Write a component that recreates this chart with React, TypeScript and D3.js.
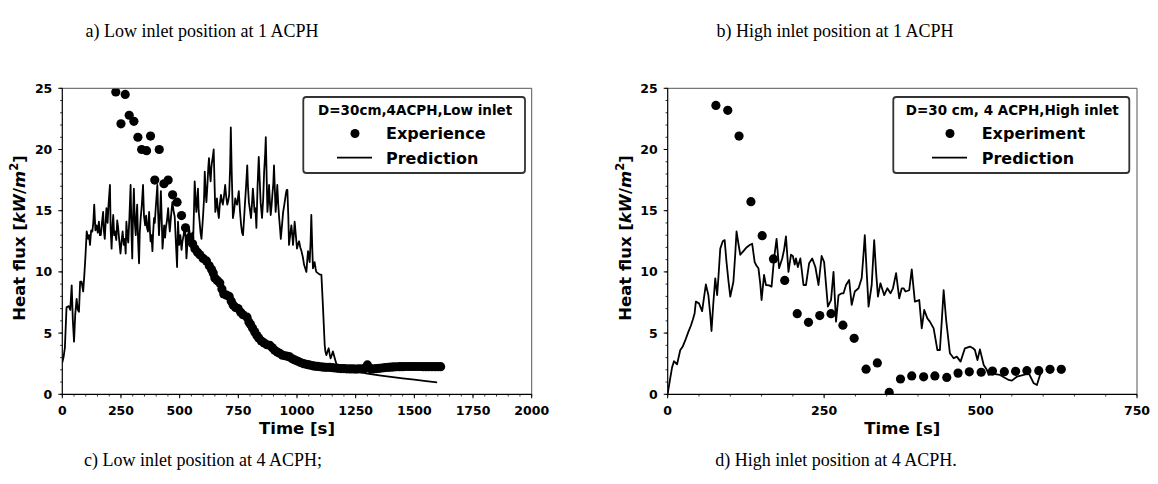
import React from "react";
import * as d3 from "d3";

// ---------- DATA ----------
const lowTicksX = [0, 250, 500, 750, 1000, 1250, 1500, 1750, 2000];
const highTicksX = [0, 250, 500, 750];
const ticksY = [0, 5, 10, 15, 20, 25];

const lowExperience: [number, number][] = [
  [228, 24.7], [250, 22.1], [268, 24.5], [285, 22.8], [305, 22.3], [322, 21.0], [338, 20.0], [359, 19.9],
  [376, 21.1], [394, 17.5], [413, 20.0], [433, 17.2], [451, 17.5], [470, 16.3], [489, 15.7], [508, 14.6],
  [525, 13.6], [543, 12.8], [555, 12.3], [565, 11.9], [576, 11.6], [586, 11.4], [600, 11.1], [614, 10.9],
  [626, 10.5], [636, 10.2], [643, 9.9], [650, 9.5], [660, 9.3], [671, 9.1], [680, 8.6], [688, 8.2],
  [700, 8.1], [711, 8.0], [720, 7.6], [728, 7.3], [738, 7.1], [749, 7.0], [760, 6.7], [770, 6.5],
  [787, 6.3], [795, 5.9], [802, 5.7], [811, 5.4], [820, 5.1], [829, 4.8], [837, 4.6], [848, 4.35],
  [860, 4.2], [872, 4.05], [884, 4.0], [895, 3.8], [905, 3.6], [916, 3.45], [926, 3.35], [938, 3.2],
  [950, 3.15], [960, 3.1], [969, 3.05], [980, 2.9], [992, 2.8], [1004, 2.7], [1015, 2.6], [1028, 2.5],
  [1040, 2.45], [1052, 2.4], [1064, 2.35], [1075, 2.3], [1088, 2.28], [1100, 2.25], [1112, 2.22], [1125, 2.2],
  [1138, 2.2], [1150, 2.18], [1162, 2.15], [1175, 2.12], [1188, 2.1], [1200, 2.1], [1212, 2.08], [1225, 2.07],
  [1238, 2.07], [1250, 2.06], [1262, 2.07], [1275, 2.08], [1288, 2.1], [1300, 2.4], [1312, 2.1], [1325, 2.08],
  [1338, 2.1], [1350, 2.12], [1362, 2.15], [1375, 2.18], [1388, 2.2], [1400, 2.22], [1412, 2.24], [1425, 2.25],
  [1438, 2.26], [1450, 2.26], [1462, 2.27], [1475, 2.27], [1488, 2.27], [1500, 2.27], [1512, 2.27], [1525, 2.27],
  [1538, 2.26], [1550, 2.26], [1562, 2.26], [1575, 2.26], [1588, 2.26], [1600, 2.26], [1612, 2.26],
];

const lowPrediction: [number, number][] = [
  [0, 2.6], [5, 3.0], [11, 3.8], [18, 7.1], [28, 7.2], [34, 6.9], [40, 8.9], [45, 6.0], [50, 4.3], [55, 6.5],
  [61, 7.8], [66, 6.9], [71, 6.75], [76, 9.2], [82, 9.2], [89, 8.4], [94, 9.8], [99, 11.4], [104, 13.3], [110, 12.7],
  [114, 13.0], [118, 12.2], [123, 13.4], [128, 13.3], [132, 14.0], [136, 15.5], [141, 13.4], [146, 13.8], [151, 13.2],
  [156, 14.1], [160, 13.0], [164, 13.0], [169, 14.0], [174, 14.9], [177, 13.4], [181, 12.7], [185, 14.2], [188, 15.2],
  [193, 14.0], [197, 15.5], [203, 17.1], [206, 13.5], [210, 11.9], [214, 13.8], [217, 14.65], [221, 13.0], [224, 13.3],
  [230, 12.6], [234, 14.2], [238, 13.6], [243, 12.5], [248, 11.5], [252, 12.4], [257, 13.3], [262, 12.2], [266, 12.7],
  [270, 11.5], [273, 14.1], [277, 13.0], [281, 12.4], [286, 14.5], [291, 17.1], [295, 13.0], [298, 11.1], [301, 14.3],
  [305, 16.8], [309, 14.0], [313, 13.0], [316, 14.5], [319, 15.5], [323, 12.5], [327, 10.7], [330, 13.2], [334, 14.4],
  [339, 15.5], [344, 17.1], [348, 14.6], [353, 13.8], [357, 14.6], [361, 13.6], [365, 13.3], [370, 14.9], [373, 13.5],
  [376, 12.5], [380, 13.0], [384, 11.7], [387, 13.2], [391, 14.4], [394, 14.0], [398, 15.2], [401, 16.0], [405, 17.1],
  [408, 15.0], [412, 13.0], [416, 14.5], [420, 16.6], [424, 14.0], [427, 11.9], [431, 13.0], [434, 13.8], [438, 12.8],
  [441, 13.6], [446, 14.2], [451, 15.2], [455, 14.0], [458, 13.3], [463, 14.5], [469, 15.7], [474, 15.0], [479, 14.5],
  [484, 12.4], [489, 10.4], [493, 14.1], [498, 12.2], [503, 13.0], [508, 11.8], [512, 12.5], [517, 13.0], [522, 13.8],
  [526, 12.5], [529, 11.1], [534, 12.6], [540, 13.6], [545, 12.8], [550, 12.5], [554, 13.2], [557, 12.2], [561, 15.0],
  [564, 17.4], [568, 16.0], [571, 14.9], [575, 15.8], [578, 16.8], [581, 15.0], [585, 14.1], [589, 13.2], [593, 12.7],
  [597, 13.8], [600, 14.65], [604, 16.0], [607, 18.2], [611, 16.5], [614, 15.7], [618, 17.0], [622, 18.5], [625, 19.3],
  [629, 18.0], [632, 17.4], [635, 18.5], [638, 19.0], [642, 19.5], [645, 20.0], [649, 17.0], [652, 14.9], [656, 15.5],
  [659, 16.0], [663, 15.0], [667, 14.4], [671, 15.5], [676, 16.3], [680, 15.8], [684, 15.5], [689, 16.2], [694, 17.1],
  [698, 16.2], [703, 15.5], [707, 15.8], [711, 16.3], [715, 18.5], [718, 21.8], [722, 18.0], [727, 14.4], [732, 15.0],
  [737, 16.0], [741, 15.6], [745, 15.5], [748, 16.0], [752, 16.6], [757, 15.0], [762, 13.8], [766, 13.2], [770, 13.0],
  [774, 14.2], [778, 15.5], [783, 17.0], [788, 18.7], [791, 17.0], [795, 15.7], [800, 15.0], [804, 14.4], [808, 15.5],
  [812, 16.8], [816, 15.8], [819, 14.9], [823, 15.2], [827, 13.6], [832, 17.0], [837, 19.4], [841, 17.5], [845, 15.7],
  [851, 14.4], [856, 16.0], [860, 18.2], [864, 19.5], [867, 21.0], [871, 17.5], [874, 14.9], [878, 16.0], [881, 17.1],
  [885, 15.5], [888, 14.65], [892, 15.5], [895, 16.3], [899, 17.2], [902, 18.7], [906, 16.5], [909, 14.9], [913, 16.0],
  [916, 17.1], [920, 15.5], [924, 14.4], [928, 13.5], [931, 12.7], [936, 13.8], [941, 14.9], [946, 15.5], [952, 16.3],
  [956, 16.7], [959, 16.7], [963, 14.5], [966, 12.2], [971, 13.0], [976, 13.8], [980, 13.0], [983, 12.2], [987, 13.2],
  [990, 14.1], [995, 13.0], [1000, 11.9], [1005, 12.3], [1009, 12.5], [1014, 12.0], [1019, 11.7], [1025, 11.2],
  [1030, 10.6], [1035, 10.3], [1040, 10.0], [1044, 11.0], [1047, 11.7], [1051, 11.2], [1054, 10.8], [1058, 12.5],
  [1061, 14.65], [1065, 12.0], [1068, 10.3], [1072, 10.6], [1075, 10.8], [1079, 10.3], [1082, 10.0], [1089, 9.9],
  [1096, 9.8], [1104, 9.75], [1111, 7.0], [1118, 4.03], [1121, 3.5], [1125, 3.2], [1130, 3.5], [1135, 3.76],
  [1139, 3.3], [1143, 2.94], [1148, 3.2], [1153, 3.5], [1160, 3.0], [1167, 2.53], [1175, 2.3], [1182, 2.15],
  [1200, 2.05], [1250, 1.88], [1300, 1.7], [1350, 1.55], [1400, 1.42], [1450, 1.3], [1500, 1.2], [1550, 1.08],
  [1597, 0.98],
];

const highExperiment: [number, number][] = [
  [77, 23.6], [96, 23.2], [114, 21.1], [133, 15.74], [151, 12.96], [169, 11.06], [187, 9.3], [207, 6.59],
  [225, 5.88], [243, 6.43], [261, 6.59], [280, 5.65], [298, 4.57], [317, 2.05], [335, 2.56], [354, 0.15],
  [372, 1.25], [390, 1.5], [409, 1.43], [427, 1.5], [446, 1.38], [464, 1.73], [482, 1.84], [501, 1.8],
  [519, 1.9], [538, 1.85], [556, 1.88], [574, 1.93], [593, 1.93], [611, 2.04], [629, 2.04],
];

const highPrediction: [number, number][] = [
  [0, 0.05], [4, 1.3], [7, 2.2], [10, 2.7], [15, 2.45], [20, 3.6], [24, 3.9], [28, 4.4], [33, 5.1], [37, 5.6],
  [40, 6.07], [43, 6.6], [45, 7.57], [50, 7.43], [55, 6.8], [58, 7.9], [61, 8.98], [65, 8.1], [68, 6.5], [70, 5.17],
  [73, 7.5], [76, 9.47], [79, 8.1], [81, 9.5], [84, 11.9], [88, 12.5], [91, 12.6], [94, 10.8], [97, 9.3], [100, 7.98],
  [105, 9.2], [108, 11.5], [110, 13.3], [113, 12.3], [116, 11.4], [121, 11.7], [126, 12.0], [131, 12.2], [135, 12.3],
  [139, 10.8], [142, 10.5], [145, 10.3], [148, 9.0], [150, 7.7], [154, 9.75], [157, 8.93], [162, 8.9], [166, 8.8],
  [170, 11.1], [174, 12.7], [178, 10.3], [183, 11.1], [186, 11.8], [189, 12.9], [193, 10.0], [197, 11.4], [200, 11.3],
  [203, 10.6], [205, 11.1], [208, 10.4], [212, 11.1], [217, 8.93], [221, 8.93], [226, 10.7], [231, 11.1], [236, 10.4],
  [241, 8.93], [246, 11.3], [250, 10.8], [256, 7.16], [261, 7.7], [265, 10.0], [269, 5.94], [273, 8.1], [278, 8.25],
  [281, 8.25], [285, 8.93], [290, 9.34], [294, 7.3], [299, 8.4], [305, 8.66], [310, 9.48], [313, 11.5], [315, 13.0],
  [318, 10.0], [321, 7.16], [326, 8.93], [330, 12.6], [333, 10.0], [336, 7.98], [340, 9.07], [346, 8.1], [351, 8.66],
  [356, 8.25], [360, 8.66], [365, 9.9], [370, 7.84], [374, 8.66], [377, 8.66], [380, 8.4], [386, 8.5], [390, 10.2],
  [395, 7.57], [402, 7.7], [406, 5.39], [410, 6.89], [415, 6.2], [419, 5.94], [425, 5.39], [431, 3.62], [435, 3.62],
  [438, 6.0], [441, 8.5], [445, 6.07], [451, 3.35], [457, 2.94], [462, 3.08], [468, 2.67], [475, 3.76], [483, 3.9],
  [488, 3.76], [491, 3.62], [495, 2.8], [499, 3.67], [505, 2.4], [510, 2.0], [513, 1.58], [521, 1.66], [531, 1.58],
  [545, 1.17], [550, 1.12], [558, 1.44], [569, 1.58], [577, 1.72], [585, 0.9], [590, 0.76], [595, 1.58], [598, 1.85],
];

const titles = [
  "a) Low inlet position at 1 ACPH",
  "b) High inlet position at 1 ACPH",
  "c) Low inlet position at 4 ACPH;",
  "d) High inlet position at 4 ACPH.",
];
const legendTitles = ["D=30cm,4ACPH,Low inlet", "D=30 cm, 4 ACPH,High inlet"];
const legendMarkerLabels = ["Experience", "Experiment"];
const legendLineLabel = "Prediction";

// ---------- LAYOUT ----------
const W = 1158;
const H = 484;
const SANS = "'DejaVu Sans', sans-serif";
const SERIF = "'Liberation Serif', 'Times New Roman', serif";

type LegendBox = { x: number; w: number; mk: number; tx: number };
type PanelProps = {
  id: string;
  x0: number;
  x1: number;
  xMax: number;
  xTicks: number[];
  xMinorStep: number;
  dots: [number, number][];
  line: [number, number][];
  legendTitle: string;
  markerLabel: string;
  legendBox: LegendBox;
};

function Panel(p: PanelProps) {
  const yTop = 88.3;
  const yBot = 394.3;
  const x = d3.scaleLinear().domain([0, p.xMax]).range([p.x0, p.x1]);
  const y = d3.scaleLinear().domain([0, 25]).range([yBot, yTop]);
  const xMinor = d3.range(0, p.xMax + 0.001, p.xMinorStep);
  const yMinor = d3.range(0, 25.001, 1);
  const lineGen = d3
    .line<[number, number]>()
    .x((d) => x(d[0]))
    .y((d) => y(d[1]));
  const cx = (p.x0 + p.x1) / 2;
  const cy = 238;
  const lb = p.legendBox;
  return (
    <g>
      <defs>
        <clipPath id={p.id}>
          <rect x={p.x0} y={yTop} width={p.x1 - p.x0} height={yBot - yTop} />
        </clipPath>
      </defs>
      <g clipPath={`url(#${p.id})`}>
        <path d={lineGen(p.line) || ""} fill="none" stroke="#000" strokeWidth={1.8} strokeLinejoin="round" />
        {p.dots.map((d, i) => (
          <circle key={i} cx={x(d[0])} cy={y(d[1])} r={4.6} fill="#000" />
        ))}
      </g>
      {/* spines */}
      <line x1={p.x0} x2={p.x1} y1={yTop} y2={yTop} stroke="#555" strokeWidth={1} />
      <line x1={p.x1} x2={p.x1} y1={yTop} y2={yBot} stroke="#555" strokeWidth={1} />
      <line x1={p.x0} x2={p.x1} y1={yBot} y2={yBot} stroke="#000" strokeWidth={1.2} />
      <line x1={p.x0} x2={p.x0} y1={yTop} y2={yBot} stroke="#000" strokeWidth={1.2} />
      {/* minor ticks */}
      {xMinor.map((t, i) => (
        <line key={"xm" + i} x1={x(t)} x2={x(t)} y1={yBot} y2={yBot + 2.2} stroke="#000" strokeWidth={0.8} />
      ))}
      {yMinor.map((t, i) => (
        <line key={"ym" + i} x1={p.x0 - 2.2} x2={p.x0} y1={y(t)} y2={y(t)} stroke="#000" strokeWidth={0.8} />
      ))}
      {/* major ticks + labels */}
      {p.xTicks.map((t) => (
        <g key={"xt" + t}>
          <line x1={x(t)} x2={x(t)} y1={yBot} y2={yBot + 4} stroke="#000" strokeWidth={1} />
          <text x={x(t)} y={yBot + 20.5} textAnchor="middle" fontFamily={SANS} fontWeight="bold" fontSize={12.5}>
            {t}
          </text>
        </g>
      ))}
      {ticksY.map((t) => (
        <g key={"yt" + t}>
          <line x1={p.x0 - 4} x2={p.x0} y1={y(t)} y2={y(t)} stroke="#000" strokeWidth={1} />
          <text x={p.x0 - 10} y={y(t)} dy="0.36em" textAnchor="end" fontFamily={SANS} fontWeight="bold" fontSize={12.5}>
            {t}
          </text>
        </g>
      ))}
      {/* axis labels */}
      <text x={cx} y={yBot + 39.5} textAnchor="middle" fontFamily={SANS} fontWeight="bold" fontSize={16.5}>
        Time [s]
      </text>
      <text
        transform={`translate(${p.x0 - 37},${cy}) rotate(-90)`}
        textAnchor="middle"
        fontFamily={SANS}
        fontWeight="bold"
        fontSize={16.5}
      >
        Heat flux [<tspan fontStyle="italic">kW</tspan>/<tspan fontStyle="italic">m</tspan>
        <tspan fontSize={11.5} dy={-7}>2</tspan>
        <tspan dy={7}>]</tspan>
      </text>
      {/* legend */}
      <rect x={lb.x} y={97} width={lb.w} height={76} rx={3} ry={3} fill="#fff" stroke="#333" strokeWidth={1.8} />
      <text x={lb.x + lb.w / 2 + 1} y={115} textAnchor="middle" fontFamily={SANS} fontWeight="bold" fontSize={13.5}>
        {p.legendTitle}
      </text>
      <circle cx={lb.x + lb.mk} cy={133.5} r={4.5} fill="#000" />
      <text x={lb.x + lb.tx} y={138.7} fontFamily={SANS} fontWeight="bold" fontSize={16}>
        {p.markerLabel}
      </text>
      <line x1={lb.x + lb.mk - 18} x2={lb.x + lb.mk + 17} y1={157.7} y2={157.7} stroke="#000" strokeWidth={1.8} />
      <text x={lb.x + lb.tx} y={164} fontFamily={SANS} fontWeight="bold" fontSize={16}>
        {legendLineLabel}
      </text>
    </g>
  );
}

export default function App() {
  return (
    <svg
      width={W}
      height={H}
      viewBox={`0 0 ${W} ${H}`}
      style={{ position: "absolute", left: 0, top: 0, background: "#fff" }}
    >
      <rect x={0} y={0} width={W} height={H} fill="#fff" />
      <text x={202} y={37} textAnchor="middle" fontFamily={SERIF} fontSize={18}>{titles[0]}</text>
      <text x={835} y={37} textAnchor="middle" fontFamily={SERIF} fontSize={18}>{titles[1]}</text>
      <text x={203} y={466} textAnchor="middle" fontFamily={SERIF} fontSize={18}>{titles[2]}</text>
      <text x={836} y={466} textAnchor="middle" fontFamily={SERIF} fontSize={18}>{titles[3]}</text>
      <Panel
        id="clipL"
        x0={62.3}
        x1={531.7}
        xMax={2000}
        xTicks={lowTicksX}
        xMinorStep={50}
        dots={lowExperience}
        line={lowPrediction}
        legendTitle={legendTitles[0]}
        markerLabel={legendMarkerLabels[0]}
        legendBox={{ x: 303.3, w: 221.7, mk: 51.7, tx: 82.7 }}
      />
      <Panel
        id="clipR"
        x0={667.7}
        x1={1137}
        xMax={750}
        xTicks={highTicksX}
        xMinorStep={50}
        dots={highExperiment}
        line={highPrediction}
        legendTitle={legendTitles[1]}
        markerLabel={legendMarkerLabels[1]}
        legendBox={{ x: 893.3, w: 236, mk: 56.7, tx: 88.4 }}
      />
    </svg>
  );
}
